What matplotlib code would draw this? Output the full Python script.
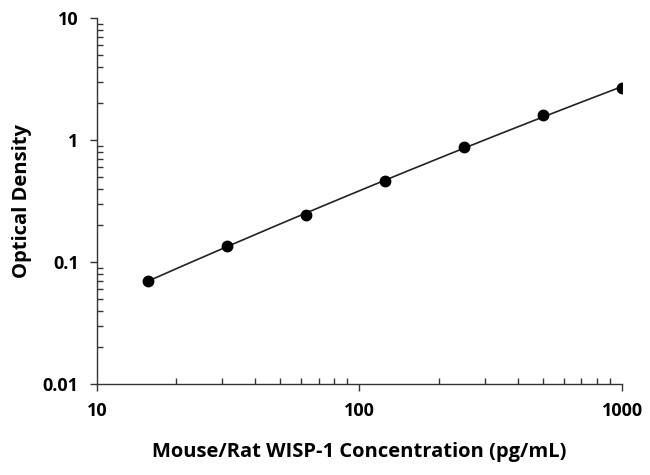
import matplotlib
matplotlib.use("Agg")
import matplotlib.pyplot as plt
import numpy as np
from matplotlib.ticker import LogLocator, NullFormatter, FixedLocator

# standard curve data
conc = [15.6, 31.25, 62.5, 125, 250, 500, 1000]
od = [0.070, 0.135, 0.243, 0.461, 0.877, 1.60, 2.67]

plt.rcParams['font.family'] = ['Open Sans', 'DejaVu Sans']

fig = plt.figure(figsize=(6.5, 4.75), dpi=100)
ax = fig.add_axes([0.149, 0.1916, 0.808, 0.7704])

# smooth fit in log-log space
lx = np.log10(conc)
ly = np.log10(od)
coef = np.polyfit(lx, ly, 2)
xs = np.linspace(lx[0], lx[-1], 200)
ax.plot(10**xs, 10**np.polyval(coef, xs), color='#222222', lw=1.2, zorder=2)
ax.plot(conc, od, 'o', color='black', ms=7.5, zorder=3)

ax.set_xscale('log')
ax.set_yscale('log')
ax.set_xlim(10, 1000)
ax.set_ylim(0.01, 10)

ax.spines['top'].set_visible(False)
ax.spines['right'].set_visible(False)
for s in ['left', 'bottom']:
    ax.spines[s].set_color('#333333')
    ax.spines[s].set_linewidth(1.0)

ax.xaxis.set_major_locator(FixedLocator([10, 100, 1000]))
ax.yaxis.set_major_locator(FixedLocator([0.01, 0.1, 1, 10]))
ax.set_xticklabels(['10', '100', '1000'])
ax.set_yticklabels(['0.01', '0.1', '1', '10'])
ax.xaxis.set_minor_locator(LogLocator(base=10, subs=np.arange(2, 10)))
ax.yaxis.set_minor_locator(LogLocator(base=10, subs=np.arange(2, 10)))
ax.xaxis.set_minor_formatter(NullFormatter())
ax.yaxis.set_minor_formatter(NullFormatter())

ax.tick_params(which='major', direction='out', length=5, width=1, color='#333333',
               labelsize=13, pad=8)
ax.tick_params(which='minor', direction='in', length=4, width=1, color='#333333')
for lab in ax.get_xticklabels() + ax.get_yticklabels():
    lab.set_fontweight('bold')

ax.set_xlabel('Mouse/Rat WISP-1 Concentration (pg/mL)', fontsize=14.5,
              fontweight='bold', labelpad=16)
ax.set_ylabel('Optical Density', fontsize=14.5, fontweight='bold', labelpad=8)

fig.savefig('out.png', dpi=100)
